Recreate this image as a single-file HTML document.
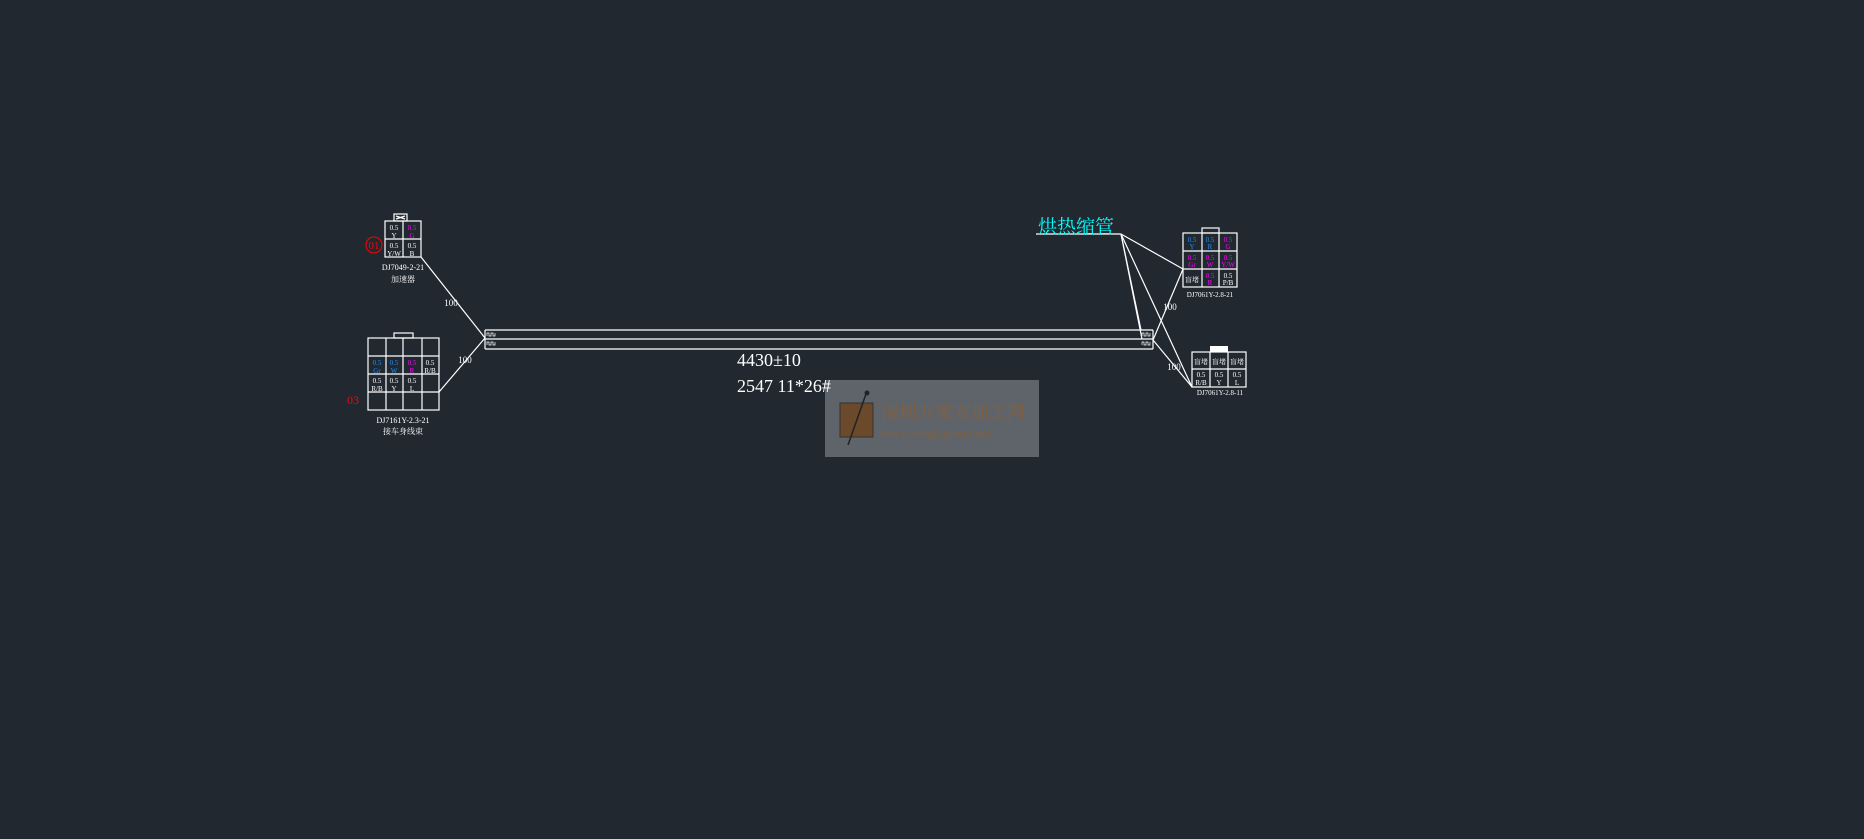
<!DOCTYPE html>
<html><head><meta charset="utf-8"><style>
html,body{margin:0;padding:0;background:#212830;width:1864px;height:839px;overflow:hidden}
svg{display:block}
text{font-family:"Liberation Serif","Noto Serif CJK SC",serif}
</style></head><body>
<svg width="1864" height="839" viewBox="0 0 1864 839" xmlns="http://www.w3.org/2000/svg">
<!-- watermark -->
<rect x="825" y="380" width="214" height="77" fill="#5f646b"/>
<rect x="840" y="403" width="33" height="34" fill="#6b4a2b" stroke="#333" stroke-width="1"/>
<line x1="848" y1="445" x2="866" y2="394" stroke="#222" stroke-width="1.5"/>
<circle cx="867" cy="393" r="2.5" fill="#222"/>
<text x="881" y="419" fill="#80603f" font-size="18" font-family="Liberation Sans,Noto Sans CJK SC,sans-serif">深圳万家友加工网</text>
<text x="881" y="437" fill="#80603f" font-size="13" font-family="Liberation Sans,sans-serif">www.wanjiayou.com</text>
<g stroke="#fff" stroke-width="1.2" fill="none">
<!-- harness -->
<line x1="485" y1="330" x2="1153" y2="330"/>
<line x1="485" y1="339" x2="1153" y2="339"/>
<line x1="485" y1="349" x2="1153" y2="349"/>
<line x1="485" y1="330" x2="485" y2="349"/>
<line x1="1153" y1="330" x2="1153" y2="349"/>
<path d="M487 336 v-3 h2 v3 h2 v-3 h2 v3 h2 v-3 M487 345 v-3 h2 v3 h2 v-3 h2 v3 h2 v-3" stroke-width="0.7"/>
<path d="M1142 336 v-3 h2 v3 h2 v-3 h2 v3 h2 v-3 M1142 345 v-3 h2 v3 h2 v-3 h2 v3 h2 v-3" stroke-width="0.7"/>
<!-- connector 01 -->
<rect x="385" y="221" width="36" height="36"/>
<line x1="385" y1="239" x2="421" y2="239"/>
<line x1="403" y1="221" x2="403" y2="257"/>
<rect x="394" y="214" width="13" height="7"/>
<line x1="396" y1="216" x2="405" y2="219"/><line x1="405" y1="216" x2="396" y2="219"/>
<line x1="421" y1="257" x2="485" y2="338"/>
<!-- connector 03 -->
<rect x="368" y="338" width="71" height="72"/>
<line x1="368" y1="356" x2="439" y2="356"/>
<line x1="368" y1="374" x2="439" y2="374"/>
<line x1="368" y1="392" x2="439" y2="392"/>
<line x1="386" y1="338" x2="386" y2="410"/>
<line x1="403" y1="338" x2="403" y2="410"/>
<line x1="422" y1="338" x2="422" y2="410"/>
<rect x="394" y="333" width="19" height="5"/>
<line x1="439" y1="392" x2="485" y2="338"/>
<!-- right top connector -->
<rect x="1183" y="233" width="54" height="54"/>
<line x1="1183" y1="251" x2="1237" y2="251"/>
<line x1="1183" y1="269" x2="1237" y2="269"/>
<line x1="1202" y1="233" x2="1202" y2="287"/>
<line x1="1219" y1="233" x2="1219" y2="287"/>
<rect x="1202" y="228" width="17" height="5"/>
<!-- right bottom connector -->
<rect x="1192" y="352" width="54" height="35"/>
<line x1="1192" y1="369" x2="1246" y2="369"/>
<line x1="1210" y1="352" x2="1210" y2="387"/>
<line x1="1228" y1="352" x2="1228" y2="387"/>
<!-- heat shrink lines -->
<line x1="1036" y1="234" x2="1121" y2="234"/>
<line x1="1121" y1="234" x2="1141" y2="330"/>
<line x1="1121" y1="234" x2="1142" y2="339"/>
<line x1="1121" y1="234" x2="1183" y2="269"/>
<line x1="1121" y1="234" x2="1192" y2="387"/>
<line x1="1153" y1="340" x2="1183" y2="269"/>
<line x1="1153" y1="340" x2="1192" y2="387"/>
</g>
<rect x="1210" y="346" width="18" height="6" fill="#fff"/>
<circle cx="374" cy="245" r="8" fill="none" stroke="#f00" stroke-width="1"/>
<g fill="#fff" font-size="9" text-anchor="middle">
<text x="451" y="306">100</text>
<text x="465" y="363">100</text>
<text x="1170" y="310">100</text>
<text x="1174" y="370">100</text>
<text x="403" y="270" font-size="8">DJ7049-2-21</text>
<text x="403" y="282" font-size="8">加速器</text>
<text x="403" y="423" font-size="8">DJ7161Y-2.3-21</text>
<text x="403" y="434" font-size="8">接车身线束</text>
<text x="1210" y="297" font-size="7">DJ7061Y-2.8-21</text>
<text x="1220" y="395" font-size="7">DJ7061Y-2.8-11</text>
<text x="394" y="230" font-size="7">0.5</text><text x="394" y="238" font-size="7">Y</text>
<text x="412" y="230" font-size="7" fill="#f0f">0.5</text><text x="412" y="238" font-size="7" fill="#f0f">G</text>
<text x="394" y="248" font-size="7">0.5</text><text x="394" y="256" font-size="7">Y/W</text>
<text x="412" y="248" font-size="7">0.5</text><text x="412" y="256" font-size="7">B</text>
<g font-size="7">
<text x="377" y="365" fill="#1e90ff">0.5</text><text x="377" y="373" fill="#1e90ff">Gr</text>
<text x="394" y="365" fill="#1e90ff">0.5</text><text x="394" y="373" fill="#1e90ff">W</text>
<text x="412" y="365" fill="#f0f">0.5</text><text x="412" y="373" fill="#f0f">R</text>
<text x="430" y="365">0.5</text><text x="430" y="373">R/B</text>
<text x="377" y="383">0.5</text><text x="377" y="391">R/B</text>
<text x="394" y="383">0.5</text><text x="394" y="391">Y</text>
<text x="412" y="383">0.5</text><text x="412" y="391">L</text>
<text x="1192" y="242" fill="#1e90ff">0.5</text><text x="1192" y="249" fill="#1e90ff">Y</text>
<text x="1210" y="242" fill="#1e90ff">0.5</text><text x="1210" y="249" fill="#1e90ff">R</text>
<text x="1228" y="242" fill="#f0f">0.5</text><text x="1228" y="249" fill="#f0f">G</text>
<text x="1192" y="260" fill="#f0f">0.5</text><text x="1192" y="267" fill="#f0f">Gr</text>
<text x="1210" y="260" fill="#f0f">0.5</text><text x="1210" y="267" fill="#f0f">W</text>
<text x="1228" y="260" fill="#f0f">0.5</text><text x="1228" y="267" fill="#f0f">Y/W</text>
<text x="1192" y="282">盲堵</text>
<text x="1210" y="278" fill="#f0f">0.5</text><text x="1210" y="285" fill="#f0f">R</text>
<text x="1228" y="278">0.5</text><text x="1228" y="285">P/B</text>
<text x="1201" y="364">盲堵</text><text x="1219" y="364">盲堵</text><text x="1237" y="364">盲堵</text>
<text x="1201" y="377">0.5</text><text x="1201" y="385">R/B</text>
<text x="1219" y="377">0.5</text><text x="1219" y="385">Y</text>
<text x="1237" y="377">0.5</text><text x="1237" y="385">L</text>
</g>
</g>
<text x="374" y="249" fill="#f00" font-size="11" text-anchor="middle">01</text>
<text x="353" y="404" fill="#f00" font-size="12" text-anchor="middle">03</text>
<text x="1038" y="233" fill="#0ff" font-size="19">烘热缩管</text>
<text x="737" y="366" fill="#fff" font-size="18">4430±10</text>
<text x="737" y="392" fill="#fff" font-size="18">2547  11*26#</text>
</svg>
</body></html>
